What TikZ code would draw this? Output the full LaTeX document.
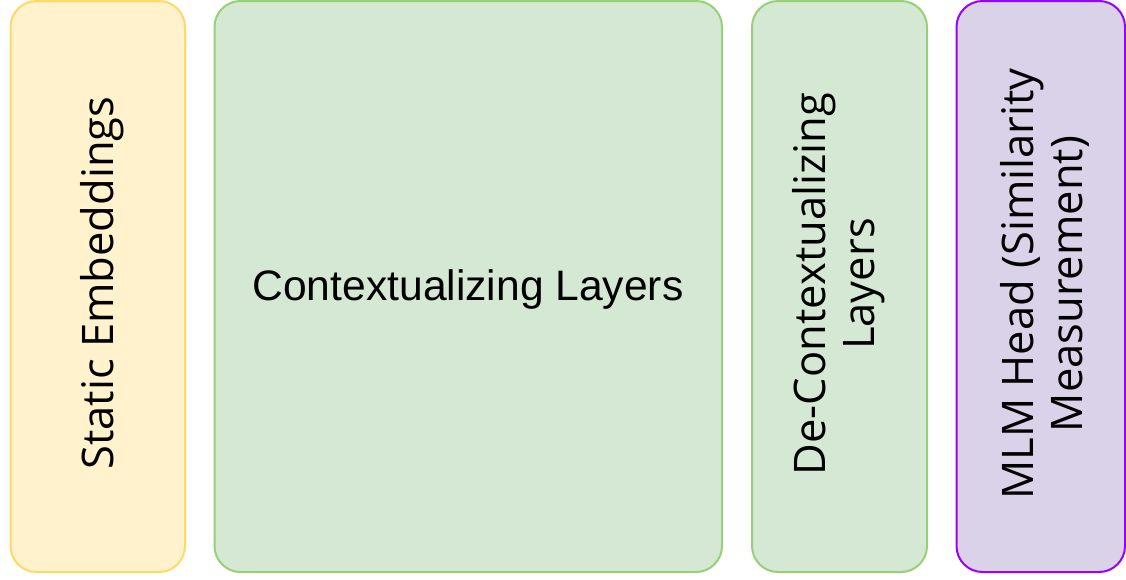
\documentclass[tikz,border=0pt]{standalone}
\usepackage{fontspec}
\setmainfont{Open Sans}
\newfontfamily\arialfont{Liberation Sans}
\definecolor{yelfill}{HTML}{FFF2CC}
\definecolor{yeldraw}{HTML}{FFD966}
\definecolor{grnfill}{HTML}{D5E8D4}
\definecolor{grndraw}{HTML}{97D077}
\definecolor{purfill}{HTML}{DAD2E8}
\definecolor{purdraw}{HTML}{9900FF}
\tikzset{
  block/.style={rounded corners=26pt, line width=2pt},
  vlabel/.style={rotate=90, align=center, font=\fontsize{43.5}{49}\selectfont, inner sep=0pt},
}
\begin{document}
\begin{tikzpicture}[x=1pt,y=-1pt]
\useasboundingbox (0,0) rectangle (1126,579);
% stage boxes
\draw[block, fill=yelfill, draw=yeldraw] (10.5,1) rectangle (185,572);
\draw[block, fill=grnfill, draw=grndraw] (214.5,1) rectangle (722,572);
\draw[block, fill=grnfill, draw=grndraw] (752,1) rectangle (927,572);
\draw[block, fill=purfill, draw=purdraw] (956.5,1) rectangle (1125,572);
% labels
\node[vlabel] (se) at (102,283) {Static Embeddings};
\node[font=\arialfont\fontsize{42.6}{50}\selectfont, inner sep=0pt] (cl) at (468,289) {Contextualizing Layers};
\node[vlabel] (dcl) at (839,284) {De-Contextualizing\\Layers};
\node[vlabel] (mlm) at (1045,284) {MLM Head (Similarity\\Measurement)};
\end{tikzpicture}
\end{document}
